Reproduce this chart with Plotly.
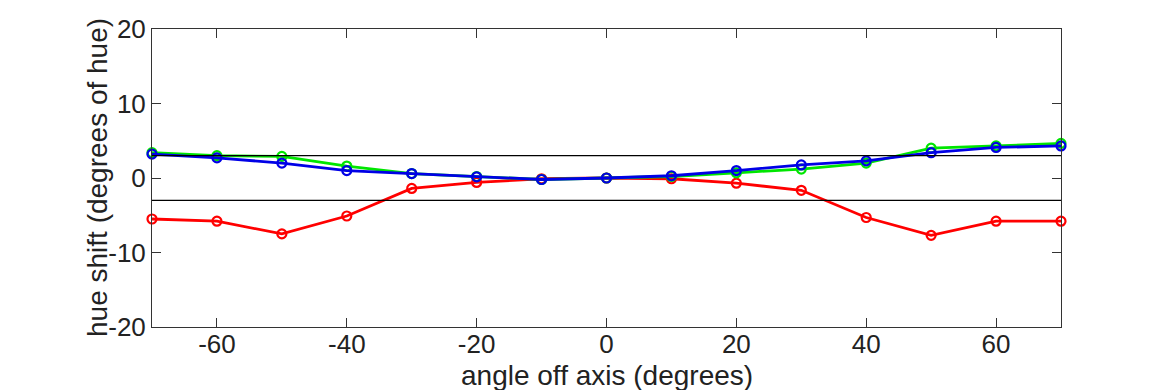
import plotly.graph_objects as go

angles = [-70, -60, -50, -40, -30, -20, -10, 0, 10, 20, 30, 40, 50, 60, 70]
red = [-5.5, -5.8, -7.5, -5.1, -1.4, -0.6, -0.1, 0.0, -0.1, -0.7, -1.65, -5.3, -7.7, -5.8, -5.8]
green = [3.4, 3.0, 2.9, 1.6, 0.6, 0.2, -0.2, 0.0, 0.2, 0.7, 1.2, 2.0, 4.0, 4.3, 4.65]
blue = [3.2, 2.7, 2.0, 1.0, 0.6, 0.15, -0.2, 0.0, 0.3, 1.0, 1.75, 2.3, 3.4, 4.1, 4.3]
limit_lines = [3, -3]
x_ticks = [-60, -40, -20, 0, 20, 40, 60]
y_ticks = [-20, -10, 0, 10, 20]
x_title = "angle off axis (degrees)"
y_title = "hue shift (degrees of hue)"

fig = go.Figure()
for vals, col in [(red, "#ff0000"), (green, "#00e600"), (blue, "#0000e6")]:
    fig.add_trace(go.Scatter(
        x=angles, y=vals, mode="lines+markers",
        line=dict(color=col, width=2.8),
        marker=dict(symbol="circle-open", size=9, color=col, line=dict(width=2.2, color=col)),
        showlegend=False, cliponaxis=False,
    ))
for v in limit_lines:
    fig.add_trace(go.Scatter(
        x=[angles[0], angles[-1]], y=[v, v], mode="lines",
        line=dict(color="black", width=1.2), showlegend=False, hoverinfo="skip",
    ))

font = "Liberation Sans, Arial, Helvetica, sans-serif"
fig.update_layout(
    width=1162, height=382,
    margin=dict(l=144, r=109, t=21, b=63),
    paper_bgcolor="white", plot_bgcolor="white",
    font=dict(family=font, size=26, color="#222222"),
    xaxis=dict(
        range=[-70, 70], tickvals=x_ticks, ticktext=[str(t) for t in x_ticks],
        ticks="inside", ticklen=9, tickcolor="#333333", tickwidth=1,
        showline=True, linecolor="#333333", linewidth=1, mirror="ticks",
        showgrid=False, zeroline=False, ticklabelstandoff=-6, automargin=False,
    ),
    yaxis=dict(
        range=[-20, 20], tickvals=y_ticks, ticktext=[str(t) for t in y_ticks],
        ticks="inside", ticklen=9, tickcolor="#333333", tickwidth=1,
        showline=True, linecolor="#333333", linewidth=1, mirror="ticks",
        showgrid=False, zeroline=False, automargin=False,
    ),
    annotations=[
        dict(text=x_title, xref="paper", yref="paper", x=0.5, y=0,
             xanchor="center", yanchor="middle", yshift=-48, showarrow=False,
             font=dict(size=28)),
        dict(text=y_title, xref="paper", yref="paper", x=0, y=0.5,
             xanchor="center", yanchor="middle", xshift=-55, textangle=-90,
             showarrow=False, font=dict(size=28)),
    ],
)
fig.write_html("out.html")
